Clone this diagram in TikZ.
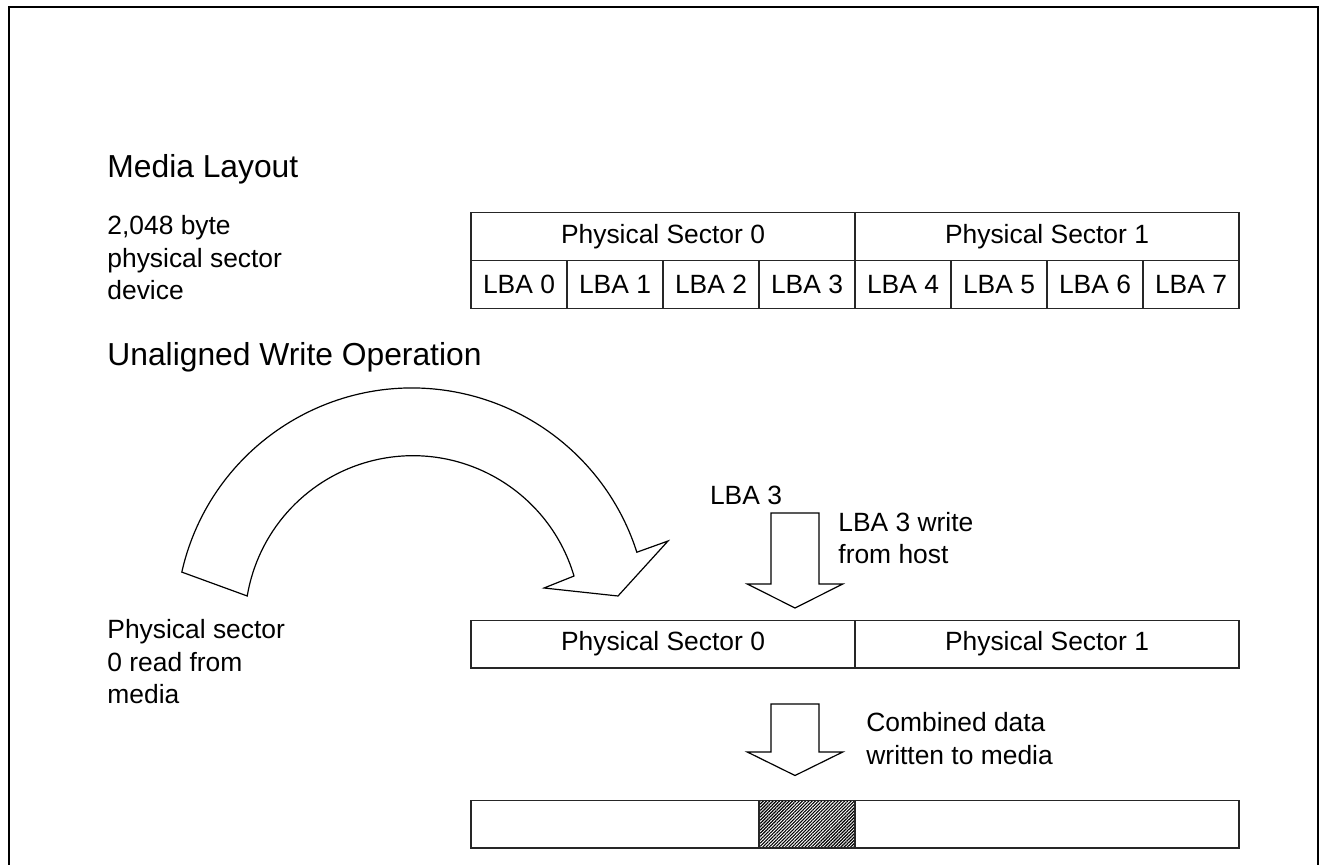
\documentclass[tikz,border=0pt]{standalone}
\usepackage{fontspec}
\setmainfont{Liberation Sans}
\usetikzlibrary{patterns.meta}
\begin{document}
\begin{tikzpicture}[x=0.5pt,y=-0.5pt,
  cell/.style={draw=black!85,line width=0.6pt,inner sep=0pt,minimum height=23.9pt,font=\fontsize{13.2pt}{15pt}\selectfont},
  lba/.style={cell,minimum width=48pt},
  psec/.style={cell,minimum width=192pt},
  ttl/.style={anchor=base west,inner sep=0pt,font=\fontsize{15.9pt}{18pt}\selectfont},
  lbl/.style={anchor=base west,inner sep=0pt,font=\fontsize{13.2pt}{15pt}\selectfont},
  outl/.style={draw=black,line width=0.6pt,line join=miter}
]
\useasboundingbox (0,0) rectangle (1320,865);
% frame
\draw[line width=1.2pt] (9,900) -- (9,7) -- (1318,7) -- (1318,900);
% titles
\node[ttl] (t1) at (107,177.5) {Media Layout};
\node[ttl] (t2) at (107,366) {Unaligned Write Operation};
\node[lbl] (dev1) at (107,235) {2,048 byte};
\node[lbl] (dev2) at (107,267.5) {physical sector};
\node[lbl] (dev3) at (107,300) {device};
% top table
\node[psec] (ps0) at (663,236.5) {Physical Sector 0};
\node[psec] (ps1) at (1047,236.5) {Physical Sector 1};
\foreach \i in {0,...,7}{
  \node[lba] (lba\i) at (519+96*\i,284.3) {LBA \i};
}
% curved arrow
\draw[outl] (181.8,572.1) arc[start angle=192.7,end angle=342.3,radius=236]
  -- (668,541) -- (618,596) -- (544,588) -- (574,576)
  arc[start angle=343.5,end angle=189.5,radius=168] -- cycle;
% LBA 3 arrow
\node[lbl,anchor=base] (l3) at (746,504) {LBA 3};
\draw[outl] (771,513) -- (819,513) -- (819,584) -- (842.7,584) -- (795,608) -- (747.3,584) -- (771,584) -- cycle;
\node[lbl] (host1) at (838,531) {LBA 3 write};
\node[lbl] (host2) at (838,563.5) {from host};
\node[lbl] (read1) at (107,638.5) {Physical sector};
\node[lbl] (read2) at (107,671) {0 read from};
\node[lbl] (read3) at (107,703.5) {media};
% middle bar
\node[psec] (m0) at (663,644) {Physical Sector 0};
\node[psec] (m1) at (1047,644) {Physical Sector 1};
% second arrow
\draw[outl] (771,704) -- (819,704) -- (819,752) -- (842.7,752) -- (795,775.5) -- (747.3,752) -- (771,752) -- cycle;
\node[lbl] (comb1) at (866,731.5) {Combined data};
\node[lbl] (comb2) at (866,764) {written to media};
% bottom bar
\node[cell,minimum width=144pt] (b0) at (615,824) {};
\node[cell,minimum width=48pt,pattern={Lines[angle=45,distance=1.15pt,line width=0.6pt]},pattern color=black] (b1) at (807,824) {};
\node[psec] (b2) at (1047,824) {};
\end{tikzpicture}
\end{document}
